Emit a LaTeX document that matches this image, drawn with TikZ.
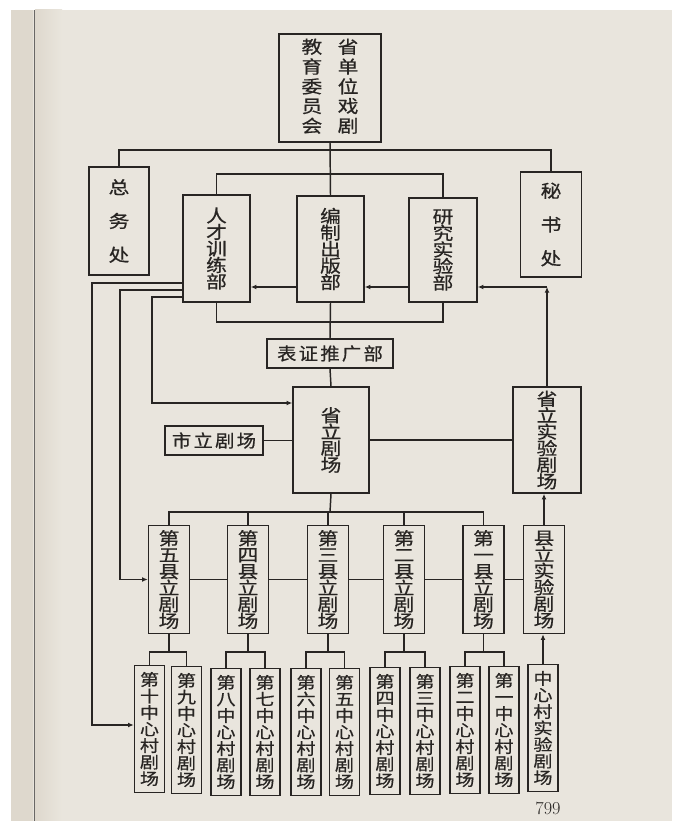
\documentclass[tikz,border=0pt]{standalone}
\usepackage{fontspec}
\usepackage{tikz}
\usetikzlibrary{arrows.meta, calc}
\newfontfamily\cjk[FakeStretch=1.18, FakeBold=0.6]{Noto Sans CJK SC}
\newfontfamily\cjkwide[FakeStretch=1.1, FakeBold=0.6, LetterSpace=13]{Noto Sans CJK SC}
\definecolor{paper}{RGB}{233,229,221}
\definecolor{paperdark}{RGB}{222,216,205}
\definecolor{ink}{RGB}{40,37,35}

\begin{document}
\begin{tikzpicture}[x=0.05cm, y=-0.05cm,
    box/.style={draw=ink, line width=2.3pt, inner sep=0pt, align=center, text=ink,
                font=\cjk\fontsize{25}{23.5}\selectfont},
    widebox/.style={box, font=\cjk\fontsize{25}{48}\selectfont},
    hbox/.style={box, font=\cjkwide\fontsize{25}{25}\selectfont},
    county/.style={box, minimum width=2.05cm, minimum height=5.4cm},
    village/.style={box, minimum width=1.5cm, minimum height=6.35cm,
                    font=\cjk\fontsize{23}{23.5}\selectfont},
    wire/.style={draw=ink, line width=2.1pt},
    arr/.style={wire, -{Latex[length=8pt, width=7pt]}}]
\useasboundingbox (0,0) rectangle (672,821);
\fill[white] (0,0) rectangle (672,821);
\fill[paper] (11,10) rectangle (672,821);
\fill[paperdark] (11,10) rectangle (33,821);
\shade[left color=paperdark, right color=paper] (35,10) rectangle (62,821);
\draw[ink!70, line width=1pt] (34,10) -- (34,821);

% committee and offices
\node[box, minimum width=5.1cm, minimum height=5.4cm] (edu) at (330,88)
  {\begin{tabular}{@{}c@{\hspace{22pt}}c@{}}
   教&省\\育&单\\委&位\\员&戏\\会&剧
   \end{tabular}};
\node[widebox, minimum width=3cm, minimum height=5.4cm] (zw) at (119,221) {总\\务\\处};
\node[widebox, minimum width=3.05cm, minimum height=5.25cm] (ms) at (551,224.5) {秘\\书\\处};

\node[box, minimum width=3.35cm, minimum height=5.35cm] (rc) at (216.5,248.5) {人\\才\\训\\练\\部};
\node[box, minimum width=3.35cm, minimum height=5.3cm] (bzcb) at (330.5,249) {编\\制\\出\\版\\部};
\node[box, minimum width=3.4cm, minimum height=5.2cm] (yjsy) at (443,250) {研\\究\\实\\验\\部};

\node[hbox, minimum width=6.3cm, minimum height=1.45cm] (bztg) at (330,353.5) {表证推广部};

% provincial level
\node[box, minimum width=3.8cm, minimum height=5.3cm] (slj) at (331,440) {省\\立\\剧\\场};
\node[hbox, minimum width=4.9cm, minimum height=1.45cm] (shl) at (214,440.5) {市立剧场};
\node[box, minimum width=3.4cm, minimum height=5.3cm] (ssy) at (547,440) {省\\立\\实\\验\\剧\\场};

% county level
\node[county] (x5) at (169,579.5) {第\\五\\县\\立\\剧\\场};
\node[county] (x4) at (248,579.5) {第\\四\\县\\立\\剧\\场};
\node[county] (x3) at (328,579.5) {第\\三\\县\\立\\剧\\场};
\node[county] (x2) at (404,579.5) {第\\二\\县\\立\\剧\\场};
\node[county] (x1) at (483.5,579.5) {第\\一\\县\\立\\剧\\场};
\node[county] (xs) at (544,579.5) {县\\立\\实\\验\\剧\\场};

% village level
\node[village] (v10) at (149.5,729) {第\\十\\中\\心\\村\\剧\\场};
\node[village] (v9) at (186.5,730) {第\\九\\中\\心\\村\\剧\\场};
\node[village] (v8) at (226,732) {第\\八\\中\\心\\村\\剧\\场};
\node[village] (v7) at (265,732) {第\\七\\中\\心\\村\\剧\\场};
\node[village] (v6) at (306,732) {第\\六\\中\\心\\村\\剧\\场};
\node[village] (v5) at (344.5,732) {第\\五\\中\\心\\村\\剧\\场};
\node[village] (v4) at (385,731) {第\\四\\中\\心\\村\\剧\\场};
\node[village] (v3) at (425,731) {第\\三\\中\\心\\村\\剧\\场};
\node[village] (v2) at (465,730) {第\\二\\中\\心\\村\\剧\\场};
\node[village] (v1) at (504,730) {第\\一\\中\\心\\村\\剧\\场};
\node[village] (vs) at (543,728) {中\\心\\村\\实\\验\\剧\\场};

\node[text=ink, font=\fontsize{26}{26}\selectfont] (pg) at (548,808) {799};

% buses
\coordinate (t1) at (330,150);
\coordinate (t2) at (330,174);
\coordinate (t3) at (330,322);
\coordinate (t4) at (330,512);
\draw[wire] (edu.south) -- (bzcb.north);
\draw[wire] (zw.north) |- (t1) -| (ms.north);
\draw[wire] (rc.north) |- (t2) -| (yjsy.north);
\draw[wire] (rc.south) |- (t3) -| (yjsy.south);
\draw[wire] (bzcb.south) -- (bztg.north);
\draw[wire] (bztg.south) -- (slj.north);
\draw[wire] (shl.east) -- (shl.east -| slj.west);
\draw[wire] (slj.east) -- (ssy.west);

% feedback arrows
\coordinate (r1) at (547,287);
\draw[arr] (bzcb.west |- r1) -- (rc.east |- r1);
\draw[arr] (yjsy.west |- r1) -- (bzcb.east |- r1);
\draw[arr] (ssy.north) -- (r1);
\draw[arr] (r1) -- (yjsy.east |- r1);

% training lines
\coordinate (l1) at (92,283);
\coordinate (l2) at (120,290);
\coordinate (l3) at (152,297);
\draw[arr] (rc.west |- l1) -- (l1) |- (v10.west |- 0,725);
\draw[arr] (rc.west |- l2) -- (l2) |- (x5);
\draw[arr] (rc.west |- l3) -- (l3) |- (slj.west |- 0,403);

% counties
\draw[wire] (slj.south) -- (t4);
\draw[wire] (x5.north) |- (t4) -| (x1.north);
\draw[wire] (x4.north) -- (x4.north |- t4);
\draw[wire] (x3.north) -- (x3.north |- t4);
\draw[wire] (x2.north) -- (x2.north |- t4);
\draw[wire] (x5) -- (x4);
\draw[wire] (x4) -- (x3);
\draw[wire] (x3) -- (x2);
\draw[wire] (x2) -- (x1);
\draw[wire] (x1) -- (xs);
\draw[arr] (xs.north) -- (xs.north |- ssy.south);
\draw[arr] (vs.north) -- (vs.north |- xs.south);

% villages
\foreach \cty/\va/\vb in {x5/v10/v9, x4/v8/v7, x3/v6/v5, x2/v4/v3, x1/v2/v1} {
  \coordinate (j\cty) at (\cty.south |- 0,652);
  \draw[wire] (\cty.south) -- (j\cty);
  \draw[wire] (\va.north) |- (j\cty) -| (\vb.north);
}
\end{tikzpicture}
\end{document}
